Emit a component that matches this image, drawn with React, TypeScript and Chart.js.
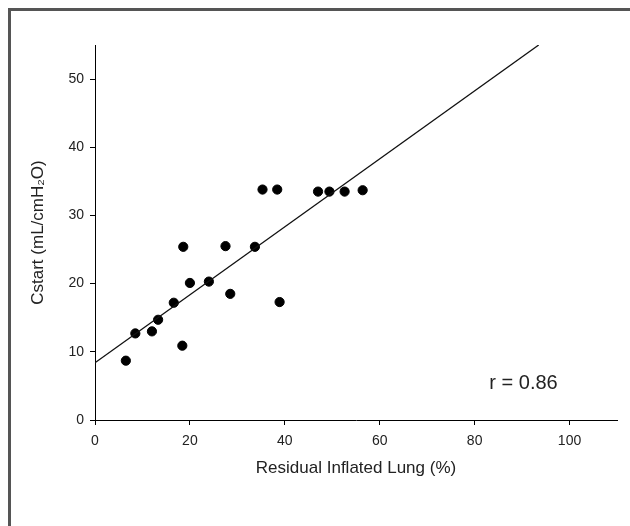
import React, { useEffect, useRef } from "react";
import { Chart, registerables } from "chart.js";

Chart.register(...registerables);

const residualLung: number[] = [6.5, 8.5, 12.0, 13.3, 16.6, 18.4, 18.6, 20.0, 24.0, 27.5, 28.5, 33.7, 35.3, 38.4, 38.9, 47.0, 49.4, 52.6, 56.4];
const cstart: number[] = [8.7, 12.7, 13.0, 14.7, 17.2, 10.9, 25.4, 20.1, 20.3, 25.5, 18.5, 25.4, 33.8, 33.8, 17.3, 33.5, 33.5, 33.5, 33.7];

const fitX: number[] = [0, 93.5];
const fitY: number[] = [8.4, 55];

const xTitle = "Residual Inflated Lung (%)";
const yTitle = "Cstart (mL/cmH\u2082O)";
const rLabel = "r = 0.86";
const rLabelPos: number[] = [90.3, 5.4];

const FONT = "Arial, 'Liberation Sans', Helvetica, sans-serif";

export default function App() {
  const canvasRef = useRef<HTMLCanvasElement | null>(null);

  useEffect(() => {
    const canvas = canvasRef.current;
    if (!canvas) return;

    const framePlugin = {
      id: "frame",
      beforeDraw(chart: any) {
        const ctx = chart.ctx;
        ctx.save();
        ctx.fillStyle = "#ffffff";
        ctx.fillRect(0, 0, chart.width, chart.height);
        ctx.strokeStyle = "#555555";
        ctx.lineWidth = 3;
        ctx.strokeRect(9.5, 9.5, chart.width + 20, chart.height + 20);
        ctx.restore();
      },
    };

    const labelPlugin = {
      id: "rlabel",
      afterDatasetsDraw(chart: any) {
        const ctx = chart.ctx;
        const xs = chart.scales.x;
        const ys = chart.scales.y;
        ctx.save();
        ctx.fillStyle = "#222222";
        ctx.font = `20px ${FONT}`;
        ctx.textAlign = "center";
        ctx.textBaseline = "middle";
        ctx.fillText(rLabel, xs.getPixelForValue(rLabelPos[0]), ys.getPixelForValue(rLabelPos[1]));
        ctx.restore();
      },
    };

    const chart = new Chart(canvas, {
      type: "scatter",
      data: {
        datasets: [
          {
            type: "line",
            data: fitX.map((x, i) => ({ x, y: fitY[i] })),
            borderColor: "#111111",
            borderWidth: 1.3,
            pointRadius: 0,
            fill: false,
            tension: 0,
          } as any,
          {
            data: residualLung.map((x, i) => ({ x, y: cstart[i] })),
            backgroundColor: "#000000",
            borderColor: "#000000",
            pointRadius: 4.6,
            pointHoverRadius: 4.6,
          },
        ],
      },
      options: {
        responsive: false,
        animation: false,
        events: [],
        layout: { padding: { left: 0, right: 13, top: 45, bottom: 0 } },
        plugins: { legend: { display: false }, tooltip: { enabled: false } },
        scales: {
          x: {
            type: "linear",
            min: 0,
            max: 110,
            afterFit(scale: any) {
              scale.height = 106;
            },
            ticks: {
              stepSize: 20,
              includeBounds: false,
              color: "#222222",
              font: { family: FONT, size: 14 },
              padding: 8,
              maxRotation: 0,
            },
            grid: { display: true, drawOnChartArea: false, drawTicks: true, tickLength: 5, color: "#000000" },
            border: { display: true, color: "#000000", width: 1 },
            title: {
              display: true,
              text: xTitle,
              color: "#222222",
              font: { family: FONT, size: 17 },
              padding: { top: 0, bottom: 47 },
            },
          },
          y: {
            type: "linear",
            min: 0,
            max: 55,
            afterFit(scale: any) {
              scale.width = 95;
            },
            ticks: {
              stepSize: 10,
              includeBounds: false,
              color: "#222222",
              font: { family: FONT, size: 14 },
              padding: 6,
            },
            grid: { display: true, drawOnChartArea: false, drawTicks: true, tickLength: 5, color: "#000000" },
            border: { display: true, color: "#000000", width: 1 },
            title: {
              display: true,
              text: yTitle,
              color: "#222222",
              font: { family: FONT, size: 17 },
              padding: { top: 28, bottom: 0 },
            },
          },
        },
      },
      plugins: [framePlugin, labelPlugin],
    });

    return () => chart.destroy();
  }, []);

  return (
    <div style={{ position: "absolute", left: 0, top: 0, width: 630, height: 526 }}>
      <canvas ref={canvasRef} width={630} height={526} style={{ display: "block" }} />
    </div>
  );
}
